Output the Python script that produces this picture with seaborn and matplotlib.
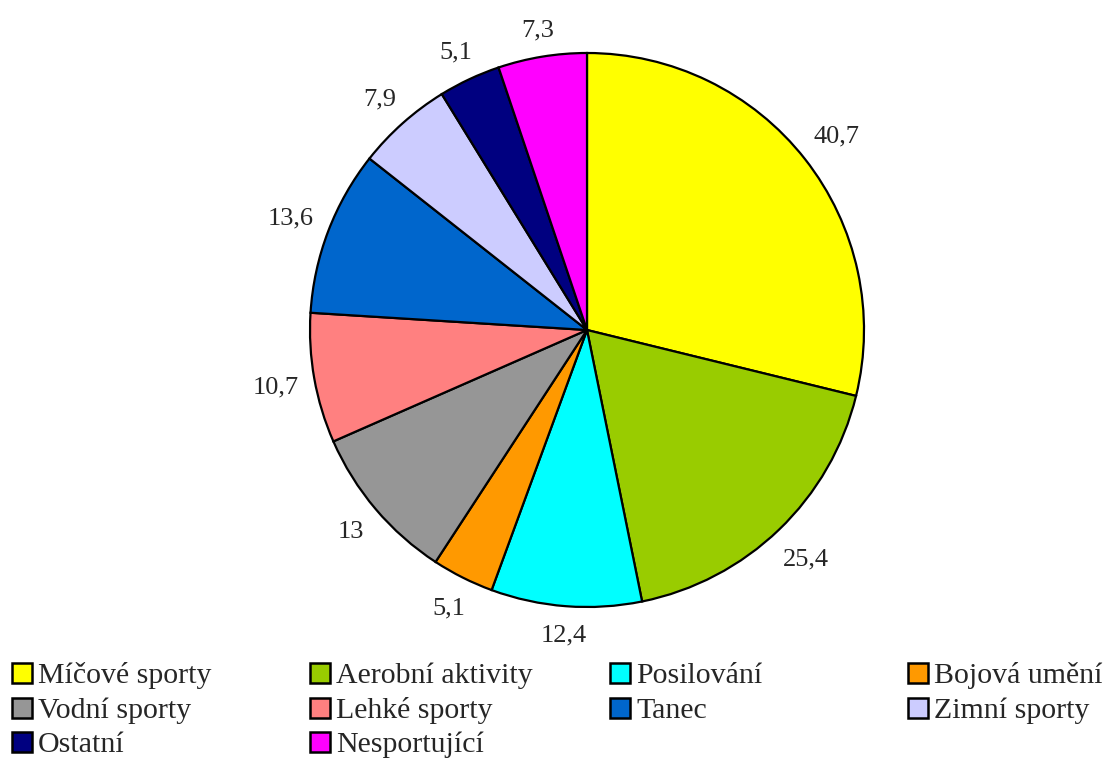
import matplotlib
matplotlib.use("Agg")
import numpy as np
import matplotlib.pyplot as plt
import matplotlib.patches as mpatches
import seaborn as sns

categories = ["Míčové sporty", "Aerobní aktivity", "Posilování", "Bojová umění",
              "Vodní sporty", "Lehké sporty", "Tanec", "Zimní sporty",
              "Ostatní", "Nesportující"]
values = [40.7, 25.4, 12.4, 5.1, 13, 10.7, 13.6, 7.9, 5.1, 7.3]
value_labels = ["40,7", "25,4", "12,4", "5,1", "13", "10,7", "13,6", "7,9", "5,1", "7,3"]
colors = ["#FFFF00", "#99CC00", "#00FFFF", "#FF9900", "#969696",
          "#FF8080", "#0066CC", "#CCCCFF", "#000080", "#FF00FF"]

sns.set_style("white")
plt.rcParams["font.family"] = ["Liberation Serif", "DejaVu Serif"]

W, H, DPI = 1119, 760, 100
fig = plt.figure(figsize=(W / DPI, H / DPI), dpi=DPI)

# pie axes: centre (587, 330), radius 277 px
cx, cy, r = 587, 330, 277
ax = fig.add_axes([(cx - r) / W, 1 - (cy + r) / H, 2 * r / W, 2 * r / H])
wedges, texts = ax.pie(values, colors=colors, startangle=90, counterclock=False,
                       labels=value_labels, labeldistance=1.15,
                       wedgeprops=dict(edgecolor="black", linewidth=1.6),
                       textprops=dict(fontsize=19, ha="center", va="center"))
ax.set_aspect("equal")
ax.set_xlim(-1, 1)
ax.set_ylim(-1, 1)
ax.axis("off")

# place each value label so its box sits a fixed gap outside the rim
renderer = fig.canvas.get_renderer()
gap_px = 15
drop_px = 2
for w, t in zip(wedges, texts):
    ang = np.deg2rad((w.theta1 + w.theta2) / 2)
    bb = t.get_window_extent(renderer)
    reach = abs(np.cos(ang)) * bb.width / 2 + abs(np.sin(ang)) * bb.height / 2
    d = (r + gap_px + reach) / r
    t.set_position((d * np.cos(ang), d * np.sin(ang) - drop_px / r))

# legend: four fixed-width columns, filled row by row
ncols = 4
col_x = [12, 310, 610, 908]   # left edge of each key square (px)
row_bottom = [683, 718, 752]  # bottom edge of key squares / text baseline (px)
sq = 20
for i, (name, col) in enumerate(zip(categories, colors)):
    x0 = col_x[i % ncols]
    yb = row_bottom[i // ncols]
    fig.patches.append(mpatches.Rectangle(
        (x0 / W, 1 - yb / H), sq / W, sq / H, transform=fig.transFigure,
        facecolor=col, edgecolor="black", linewidth=1.8))
    fig.text((x0 + sq + 6) / W, 1 - yb / H, name, fontsize=21.5,
             ha="left", va="baseline")

fig.savefig("out.png", dpi=DPI, facecolor="white")
